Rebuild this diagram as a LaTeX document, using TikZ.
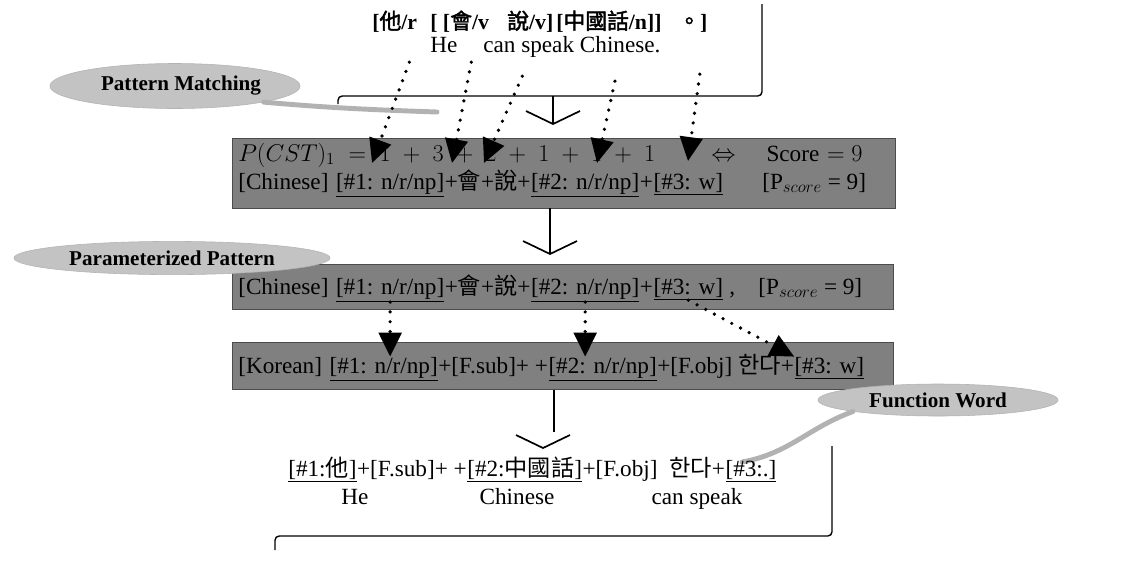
\documentclass[tikz,border=0pt]{standalone}
\usepackage{fontspec}
\setmainfont{Liberation Serif}
\newfontfamily\cjk[AutoFakeBold=2]{Noto Sans CJK TC}
\usetikzlibrary{arrows.meta,positioning,shapes.geometric,calc}
\definecolor{scan}{RGB}{128,128,128}
\definecolor{blob}{RGB}{195,195,195}

\begin{document}
\begin{tikzpicture}[x=0.025cm,y=-0.025cm,font=\fontsize{16.5}{19}\selectfont]
			\tikzset{frame/.style={draw,line width=1pt,rounded corners=3pt}}
			\tikzset{graybox/.style={fill=scan,draw=black!70,line width=0.6pt,inner sep=0pt}}
			\tikzset{blob/.style={ellipse,fill=blob,draw=black!30,inner sep=0pt,font=\fontsize{15}{17}\selectfont\bfseries}}
			\tikzset{tok/.style={inner sep=0pt,anchor=base west}}
			\tikzset{src/.style={tok,font=\fontsize{15.5}{17}\selectfont\bfseries}}
			\tikzset{dotarrow/.style={draw,line width=2.6pt,line cap=round,dash pattern=on 0pt off 7pt,-{Triangle[length=17pt,width=16pt]}}}
			\tikzset{flow/.style={draw,line width=0.8pt}}
			\tikzset{wisp/.style={draw=black!30,line width=3.5pt,line cap=round}}

			% flow mark: V with tip at origin
			\tikzset{pics/vmark/.style={code={%
								\draw[line width=1.2pt] (-27,-13) -- (0,0) -- (27,-13);
							}}}

			\useasboundingbox (0,0) rectangle (1123,562);

			% source sentence
			\node[src] (s1) at (372,29) {[{\cjk 他}/r};
			\node[src] (s2) at (430,29) {[ [{\cjk 會}/v};
			\node[src] (s3) at (507,29) {{\cjk 說}/v]};
			\node[src] (s4) at (556,29) {[{\cjk 中國話}/n]]};
			\node[src] (s5) at (678,29) {{\cjk 。}]};
			\node[tok] (e1) at (430,52) {He};
			\node[tok] (e2) at (483,52) {can speak Chinese.};
			\draw[frame] (338,104) |- (762,96) -- (762,4);

			\node[blob,minimum width=6.25cm,minimum height=1.125cm] (pm) at (175,86) {\hspace*{0.3cm}Pattern Matching};
			\coordinate (pmtail) at (437,112);
			\draw[wisp] (pm.south east) to[out=-5,in=178] (pmtail);

			% matched pattern and score
			\node[graybox,minimum width=16.55cm,minimum height=1.75cm] (cst) at (564,173) {};
			\node[tok,text width=15.6cm] (score) at (238,161) {$P(CST)_1 \;=\; 1 \;+\; 3 \;+\; 2 \;+\; 1 \;+\; 1 \;+\; 1$ \hfill $\Leftrightarrow$ \quad Score $= 9$};
			\node[tok] (c1) at (238,189) {[Chinese]\kern0.3em};
			\node[tok] (c2) at (c1.base east) {\underline{[\#1: n/r/np]}};
			\node[tok] (c3) at (c2.base east) {+{\cjk 會}+{\cjk 說}+};
			\node[tok] (c4) at (c3.base east) {\underline{[\#2: n/r/np]}};
			\node[tok] (c5) at (c4.base east) {+};
			\node[tok] (c6) at (c5.base east) {\underline{[\#3: w]}};
			\node[tok] (c7) at (762,189) {[P$_{score}$ = 9]};

			\coordinate (h1) at (372,163);
			\coordinate (h2) at (452,163);
			\coordinate (h3) at (484,163);
			\coordinate (h4) at (597,163);
			\coordinate (h5) at (688,161);
			\draw[dotarrow] ([shift={(-8,30)}]s1.south east) -- (h1);
			\draw[dotarrow] ([shift={(-18,30)}]s2.south east) -- (h2);
			\draw[dotarrow] ([shift={(-8,44)}]s3.south) -- (h3);
			\draw[dotarrow] ([shift={(6,49)}]s4.south) -- (h4);
			\draw[dotarrow] ([shift={(7,42)}]s5.south) -- (h5);

			\coordinate (v1) at (553,124);
			\draw[flow] ($(v1)+(0,-28)$) -- (v1);
			\pic at (v1) {vmark};

			\coordinate (v2) at (550,254);
			\draw[flow] (cst.south -| v2) -- (v2);
			\pic at (v2) {vmark};

			% parameterized pattern
			\node[graybox,minimum width=16.5cm,minimum height=1.125cm] (pat) at (563,287) {};
			\node[tok] (p1) at (238,294) {[Chinese]\kern0.3em};
			\node[tok] (p2) at (p1.base east) {\underline{[\#1: n/r/np]}};
			\node[tok] (p3) at (p2.base east) {+{\cjk 會}+{\cjk 說}+};
			\node[tok] (p4) at (p3.base east) {\underline{[\#2: n/r/np]}};
			\node[tok] (p5) at (p4.base east) {+};
			\node[tok] (p6) at (p5.base east) {\underline{[\#3: w]}};
			\node[tok] (p7) at (p6.base east) {\ ,\quad [P$_{score}$ = 9]};
			\node[blob,minimum width=7.9cm,minimum height=0.83cm] (pp) at (172,258) {Parameterized Pattern};

			% korean pattern
			\node[graybox,minimum width=16.5cm,minimum height=1.175cm] (kor) at (563,366) {};
			\node[tok] (k1) at (238,373) {[Korean]\kern0.3em};
			\node[tok] (k2) at (k1.base east) {\underline{[\#1: n/r/np]}};
			\node[tok] (k3) at (k2.base east) {+[F.sub]+\ +};
			\node[tok] (k4) at (k3.base east) {\underline{[\#2: n/r/np]}};
			\node[tok] (k5) at (k4.base east) {+[F.obj]\ {\cjk 한다}+};
			\node[tok] (k6) at (k5.base east) {\underline{[\#3: w]}};

			\draw[dotarrow] (p2.south) -- (p2.south |- k2.north);
			\draw[dotarrow] (p4.south) -- (p4.south |- k4.north);
			\draw[dotarrow] (p6.south) -- (k6.north west);

			\node[blob,minimum width=6cm,minimum height=0.8cm] (fw) at (938,400) {Function Word};
			\coordinate (fwtail) at (742,462);
			\draw[wisp] (fw.south west) to[out=200,in=10] (fwtail);

			\coordinate (v3) at (543,448);
			\draw[flow] (kor.south -| 554,0) -- (554,432);
			\pic at (v3) {vmark};

			% generated sentence
			\node[tok] (b1) at (288,476) {\underline{[\#1:{\cjk 他}]}};
			\node[tok] (b2) at (b1.base east) {+[F.sub]+\ +};
			\node[tok] (b3) at (b2.base east) {\underline{[\#2:{\cjk 中國話}]}};
			\node[tok] (b4) at (b3.base east) {+[F.obj]\ \ {\cjk 한다}+};
			\node[tok] (b5) at (b4.base east) {\underline{[\#3:.]}};
			\node[inner sep=0pt,anchor=base] (g1) at (355,504) {He};
			\node[inner sep=0pt,anchor=base] (g2) at (517,504) {Chinese};
			\node[inner sep=0pt,anchor=base] (g3) at (697,504) {can speak};
			\draw[frame] (275,550) |- (832,536) -- (832,446);
\end{tikzpicture}
\end{document}
